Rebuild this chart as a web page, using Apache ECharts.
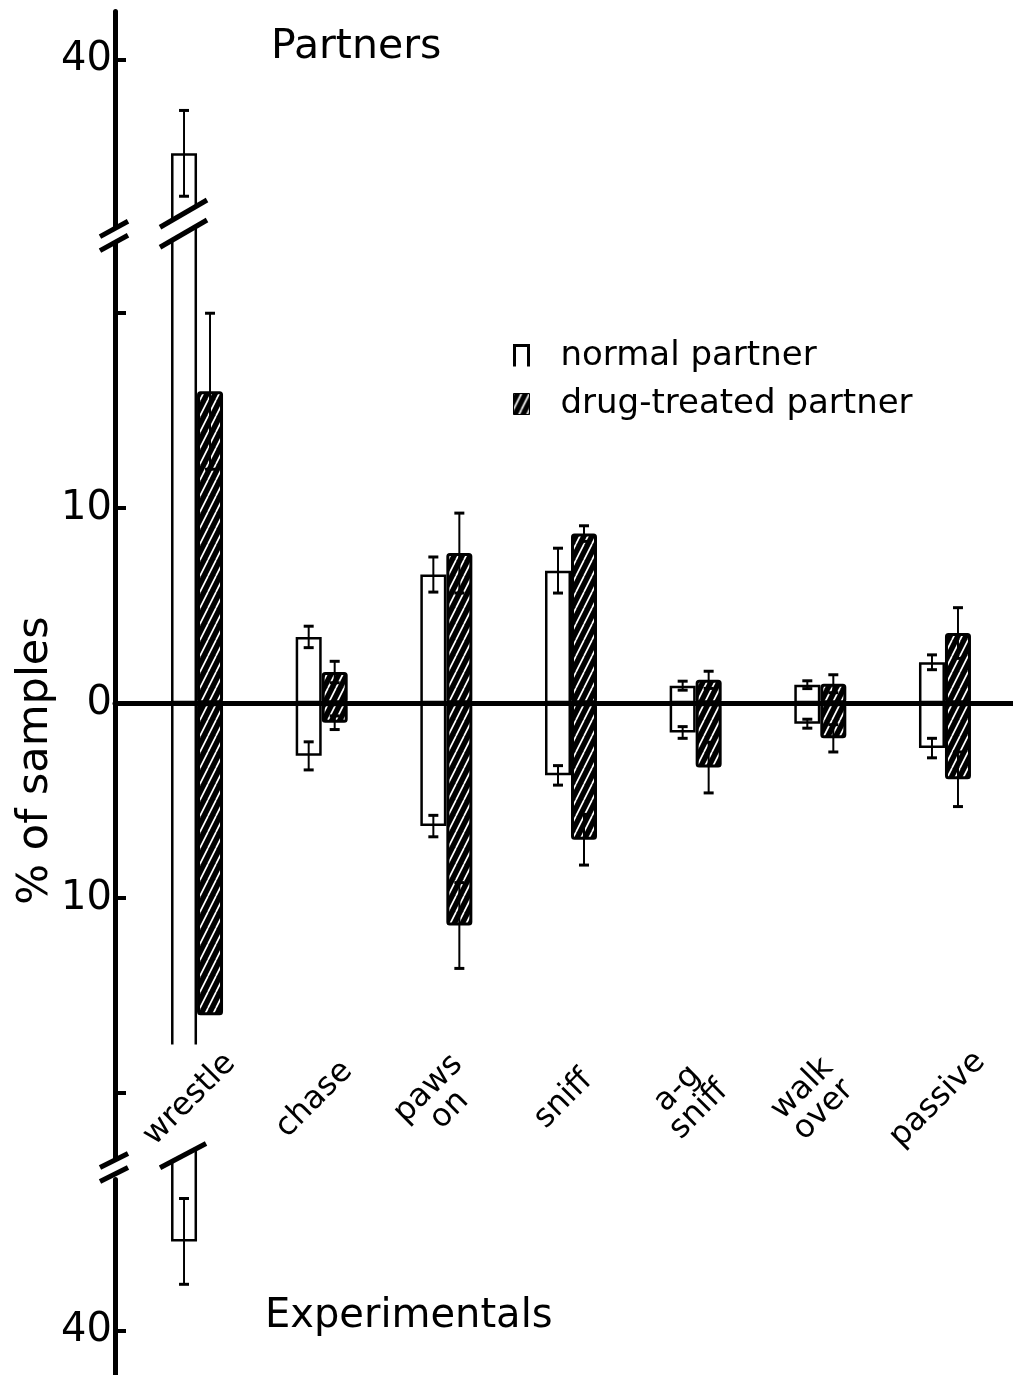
<!DOCTYPE html>
<html><head><meta charset="utf-8">
<script src="https://cdn.jsdelivr.net/npm/echarts@6.0.0/dist/echarts.min.js"></script>
<style>html,body{margin:0;padding:0;background:#fff}#c{width:1013px;height:1375px}</style>
</head><body><div id="c"></div>
<script>
// ---- data (% of samples) ----
const categories = ['wrestle', 'chase', 'paws\non', 'sniff', 'a-g\nsniff', 'walk\nover', 'passive'];
const partnersNormal      = [35.2, 3.4, 6.6, 6.8, 0.9, 0.95, 2.1];
const partnersNormalSE    = [2.2, 0.55, 0.9, 1.15, 0.23, 0.2, 0.38];
const partnersDrug        = [16.0, 1.6, 7.7, 8.7, 1.2, 1.0, 3.6];
const partnersDrugSE      = [4.0, 0.55, 2.05, 0.4, 0.44, 0.46, 1.3];
const experimentalsNormal   = [35.4, 2.7, 6.3, 3.7, 1.5, 1.05, 2.3];
const experimentalsNormalSE = [2.2, 0.72, 0.55, 0.5, 0.3, 0.23, 0.5];
const experimentalsDrug     = [16.0, 1.0, 11.4, 7.0, 3.3, 1.8, 3.9];
const experimentalsDrugSE   = [null, 0.35, 2.2, 1.3, 1.3, 0.7, 1.4];
const yTickValues  = [-40, -20, -10, 0, 10, 20, 40];
const yLabelValues = [-40, -10, 0, 10, 40];
const upperBreak = [24, 31.4];
const lowerBreak = [-32.2, -24];
const wrestleCutFrom = 17.5;

const FONT = 'DejaVu Sans';
const BAR_W = 26;

function hatchCanvas() {
  const c = document.createElement('canvas');
  c.width = 8; c.height = 16;
  const g = c.getContext('2d');
  g.fillStyle = '#000'; g.fillRect(0, 0, 8, 16);
  g.strokeStyle = '#fff'; g.lineWidth = 1.7;
  g.beginPath();
  for (const dx of [-8, 0, 8]) { g.moveTo(dx, 16); g.lineTo(dx + 8, 0); }
  g.stroke();
  return c;
}
const hatch = { image: hatchCanvas(), repeat: 'repeat' };
const normalStyle = { color: '#fff', borderColor: '#000', borderWidth: 2.5 };
const drugStyle = { color: hatch, borderColor: '#000', borderWidth: 3, borderRadius: 2 };

function yAxisCfg(grid, visible) {
  return {
    type: 'value', gridIndex: grid, min: -42.2, max: 42.5,
    breaks: [
      { start: lowerBreak[0], end: lowerBreak[1], gap: 0.4 },
      { start: upperBreak[0], end: upperBreak[1], gap: 0.4 }
    ],
    breakArea: { show: false },
    splitLine: { show: false },
    axisLine: { show: visible, lineStyle: { color: '#000', width: 5 } },
    axisTick: { show: visible, inside: true, length: 11, customValues: yTickValues, lineStyle: { color: '#000', width: 4 } },
    axisLabel: { show: visible, customValues: yLabelValues, formatter: v => String(Math.abs(v)), margin: 3, color: '#000', fontSize: 40, fontFamily: FONT },
    name: visible ? '% of samples' : '',
    nameLocation: 'middle', nameRotate: 90, nameGap: 58, nameMoveOverlap: false,
    nameTextStyle: { fontSize: 43, fontFamily: FONT, color: '#000', padding: [0, 136, 0, 0] }
  };
}

function errSeries(name, values, ses, sign, offset) {
  const data = [];
  values.forEach((v, i) => {
    if (ses[i] == null) return;
    data.push([i, sign * (v - ses[i]), sign * (v + ses[i])]);
  });
  return {
    type: 'custom', name: name, xAxisIndex: 1, yAxisIndex: 1, z: 4, silent: true,
    data: data,
    renderItem: function (params, api) {
      const a = api.coord([api.value(0), api.value(1)]);
      const b = api.coord([api.value(0), api.value(2)]);
      const x = a[0] + offset, hw = 5;
      return { type: 'group', children: [
        { type: 'line', shape: { x1: x, y1: a[1], x2: x, y2: b[1] }, style: { stroke: '#000', lineWidth: 2 } },
        { type: 'line', shape: { x1: x - hw, y1: a[1], x2: x + hw, y2: a[1] }, style: { stroke: '#000', lineWidth: 3 } },
        { type: 'line', shape: { x1: x - hw, y1: b[1], x2: x + hw, y2: b[1] }, style: { stroke: '#000', lineWidth: 3 } }
      ] };
    }
  };
}

const chart = echarts.init(document.getElementById('c'), null, { renderer: 'canvas' });
chart.setOption({
  animation: false,
  backgroundColor: '#fff',
  title: [
    { text: 'Partners', left: 266, top: 22, textStyle: { fontSize: 41, fontWeight: 'normal', fontFamily: FONT, color: '#000' } },
    { text: 'Experimentals', left: 260, top: 1292, textStyle: { fontSize: 40, fontWeight: 'normal', fontFamily: FONT, color: '#000' } }
  ],
  legend: {
    orient: 'vertical', left: 508, top: 334, itemWidth: 16, itemHeight: 21, itemGap: 14,
    selectedMode: false,
    textStyle: { fontSize: 34, fontFamily: FONT, color: '#000', padding: [0, 0, 0, 26] },
    data: [
      { name: 'normal partner', icon: 'path://M0,24 L0,0 L16,0 L16,24', itemStyle: { color: '#fff', borderColor: '#000', borderWidth: 3 } },
      { name: 'drug-treated partner', icon: 'rect', itemStyle: { color: hatch, borderColor: '#000', borderWidth: 1 } }
    ]
  },
  grid: [
    { left: 115, right: 0, top: 11, bottom: 1, outerBoundsMode: 'none' },
    { left: 134.7, right: 5.7, top: 11, bottom: 1, outerBoundsMode: 'none' },
    // band whose lower edge carries the category names
    { left: 134.7, right: 5.7, top: 11, bottom: 283, outerBoundsMode: 'none' }
  ],
  xAxis: [
    { type: 'value', gridIndex: 0, min: 0, max: 1, z: 5,
      axisLine: { onZero: true, lineStyle: { color: '#000', width: 5 } },
      axisTick: { show: false }, axisLabel: { show: false }, splitLine: { show: false } },
    { type: 'category', gridIndex: 1, data: categories,
      axisLine: { show: false }, axisTick: { show: false }, axisLabel: { show: false }, splitLine: { show: false } },
    { type: 'category', gridIndex: 2, data: categories, position: 'bottom', z: 10,
      axisLine: { show: false, onZero: false }, axisTick: { show: false }, splitLine: { show: false },
      axisLabel: { interval: 0, rotate: 45, margin: 0, align: 'center', verticalAlign: 'middle',
        padding: [0, 21, 21, 0], fontSize: 32, lineHeight: 30, fontFamily: FONT, color: '#000' } }
  ],
  yAxis: [ yAxisCfg(0, true), yAxisCfg(1, false),
    { type: 'value', gridIndex: 2, show: false, min: 0, max: 1 } ],
  series: [
    { name: 'normal partner', type: 'bar', xAxisIndex: 1, yAxisIndex: 1, stack: 'n', barWidth: BAR_W, barGap: '0%', data: partnersNormal, itemStyle: normalStyle },
    { name: 'normal partner', type: 'bar', xAxisIndex: 1, yAxisIndex: 1, stack: 'n', barWidth: BAR_W, barGap: '0%', data: experimentalsNormal.map(v => -v), itemStyle: normalStyle },
    { name: 'drug-treated partner', type: 'bar', xAxisIndex: 1, yAxisIndex: 1, stack: 'd', barWidth: BAR_W, barGap: '0%', data: partnersDrug, itemStyle: drugStyle },
    { name: 'drug-treated partner', type: 'bar', xAxisIndex: 1, yAxisIndex: 1, stack: 'd', barWidth: BAR_W, barGap: '0%', data: experimentalsDrug.map(v => -v), itemStyle: drugStyle },
    errSeries('normal partner', partnersNormal, partnersNormalSE, 1, -BAR_W / 2),
    errSeries('normal partner', experimentalsNormal, experimentalsNormalSE, -1, -BAR_W / 2),
    errSeries('drug-treated partner', partnersDrug, partnersDrugSE, 1, BAR_W / 2),
    errSeries('drug-treated partner', experimentalsDrug, experimentalsDrugSE, -1, BAR_W / 2)
  ]
});

// ---- axis-break and bar-break marks, placed through the axes ----
const yPx = v => chart.convertToPixel({ yAxisIndex: 0 }, v);
const ax = chart.convertToPixel({ xAxisIndex: 0 }, 0);
const bx = chart.convertToPixel({ xAxisIndex: 1 }, 0) - BAR_W / 2;
const upMid = (yPx(upperBreak[0]) + yPx(upperBreak[1])) / 2;
const loMid = (yPx(lowerBreak[0]) + yPx(lowerBreak[1])) / 2;

function doubleSlash(cx, cy, half, x0, x1, slope, wx0, wx1) {
  const y = (x, d) => cy + d + slope * (x - cx);
  return [
    { type: 'polygon', z: 20, shape: { points: [[wx0, y(wx0, -half)], [wx1, y(wx1, -half)], [wx1, y(wx1, half)], [wx0, y(wx0, half)]] }, style: { fill: '#fff' } },
    { type: 'line', z: 21, shape: { x1: x0, y1: y(x0, -half), x2: x1, y2: y(x1, -half) }, style: { stroke: '#000', lineWidth: 5 } },
    { type: 'line', z: 21, shape: { x1: x0, y1: y(x0, half), x2: x1, y2: y(x1, half) }, style: { stroke: '#000', lineWidth: 5 } }
  ];
}
const g = [];
g.push(...doubleSlash(ax, upMid + 4, 7, ax - 15, ax + 13, -0.55, ax - 6, ax + 6));
g.push(...doubleSlash(ax, loMid - 8, 7, ax - 15, ax + 13, -0.5, ax - 6, ax + 6));
g.push(...doubleSlash(bx, upMid - 8, 10, bx - 24, bx + 23, -0.58, bx - 15, bx + 15));
// experimentals wrestle bar: interrupted to leave room for the category label
const cutTop = yPx(-wrestleCutFrom);
const sl = loMid - 20;
const sy = x => sl - 0.53 * (x - bx);
g.push({ type: 'polygon', z: 6, shape: { points: [[bx - 15, cutTop], [bx + 15, cutTop], [bx + 15, sy(bx + 15)], [bx - 15, sy(bx - 15)]] }, style: { fill: '#fff' } });
g.push({ type: 'line', z: 7, shape: { x1: bx - 24, y1: sy(bx - 24), x2: bx + 22, y2: sy(bx + 22) }, style: { stroke: '#000', lineWidth: 5 } });
chart.setOption({ graphic: { elements: g } });
</script>
</body></html>
